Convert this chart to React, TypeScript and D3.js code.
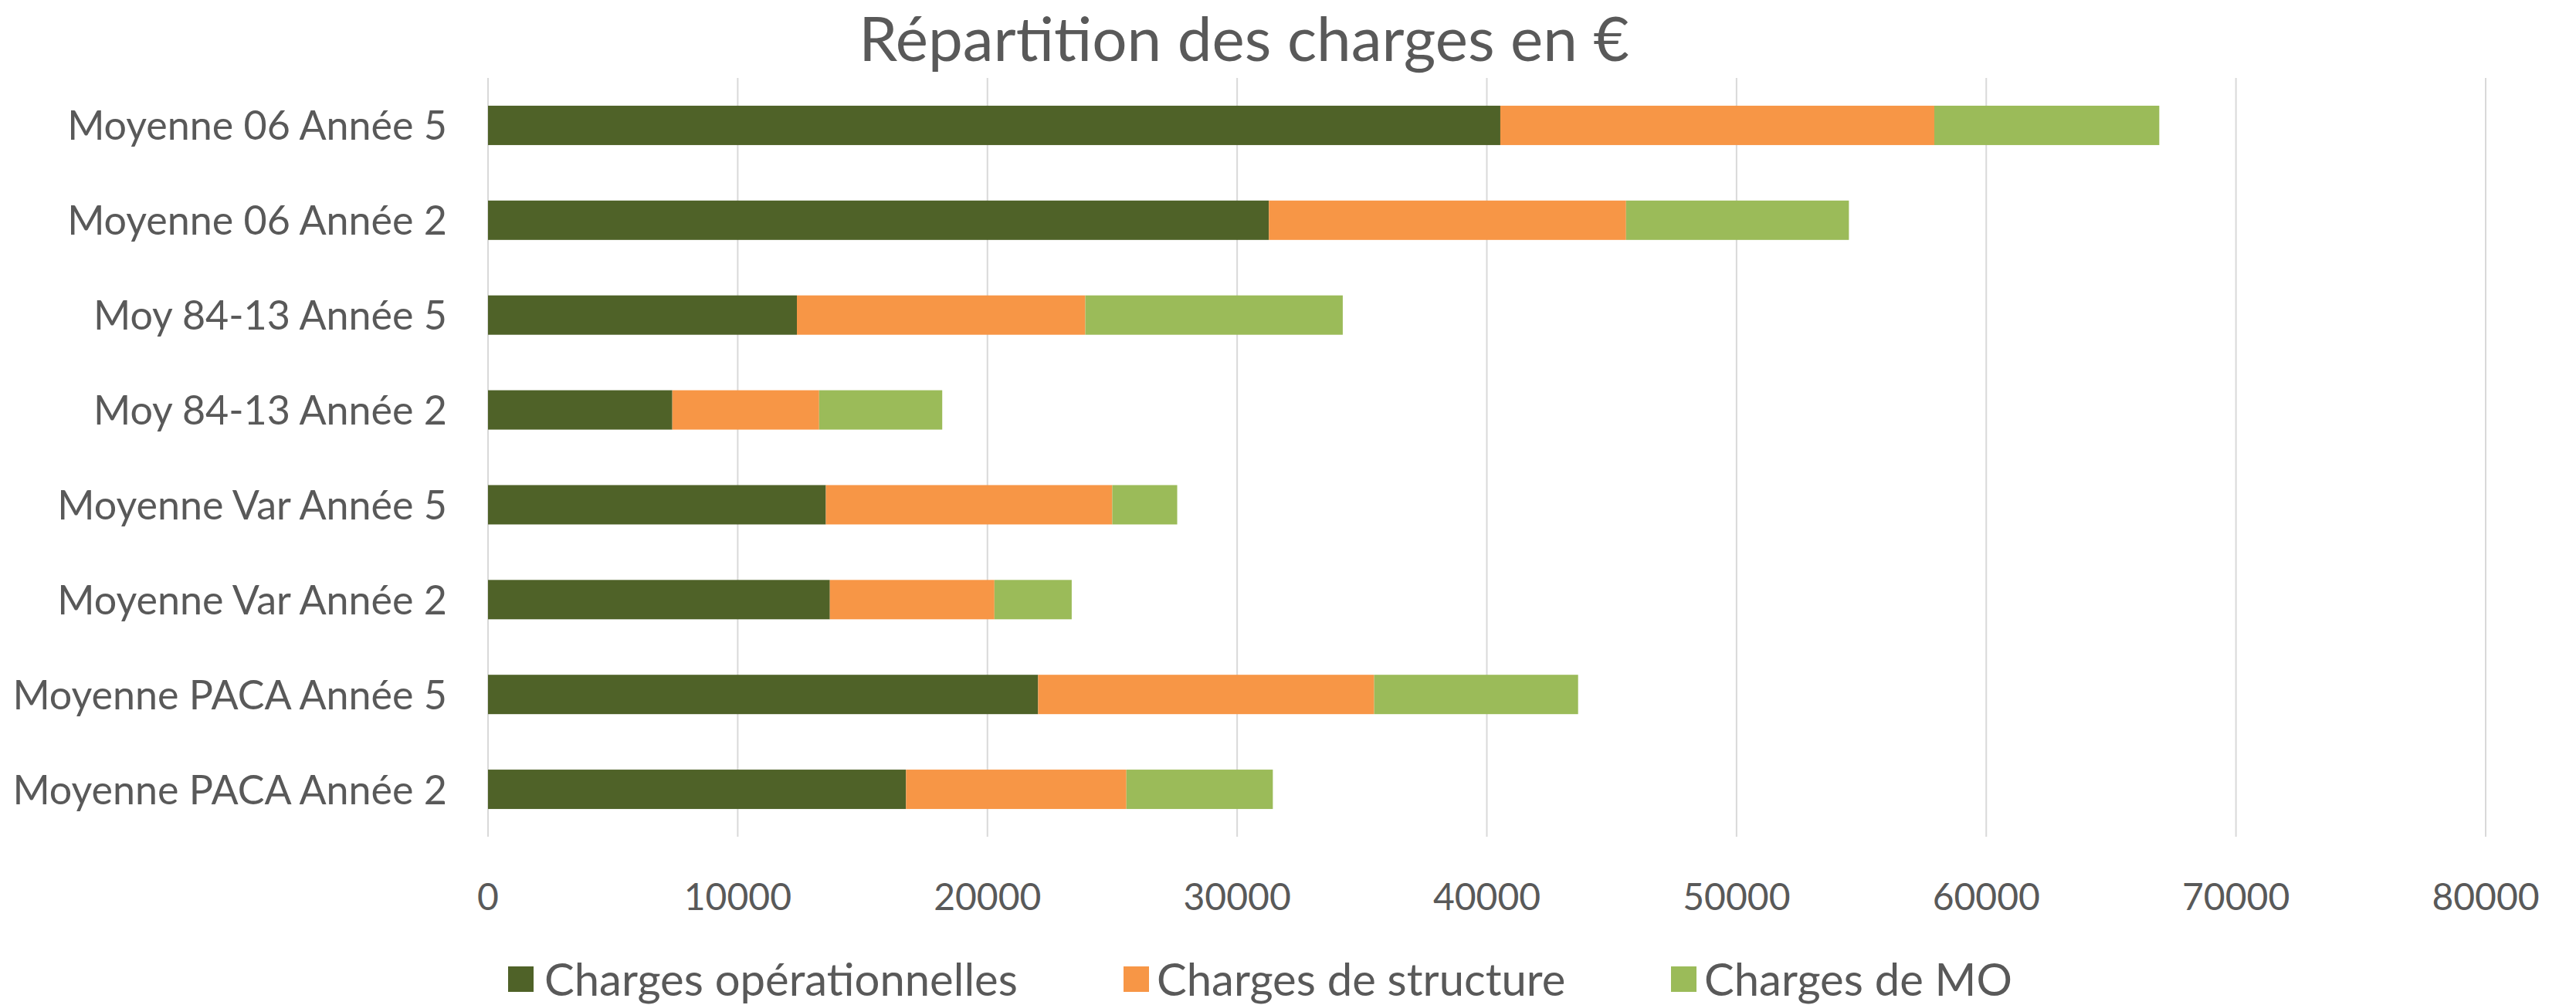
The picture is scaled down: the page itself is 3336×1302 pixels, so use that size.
import React from "react";
import * as d3 from "d3";

const categories = [
  "Moyenne 06 Année 5",
  "Moyenne 06 Année 2",
  "Moy 84-13 Année 5",
  "Moy 84-13 Année 2",
  "Moyenne Var Année 5",
  "Moyenne Var Année 2",
  "Moyenne PACA Année 5",
  "Moyenne PACA Année 2",
];
const seriesNames = ["Charges opérationnelles", "Charges de structure", "Charges de MO"];
const chargesOperationnelles = [40540, 31270, 12370, 7380, 13530, 13690, 22030, 16740];
const chargesStructure = [17380, 14305, 11550, 5880, 11470, 6590, 13458, 8825];
const chargesMO = [9010, 8925, 10310, 4930, 2600, 3095, 8167, 5865];
const xTicks = [0, 10000, 20000, 30000, 40000, 50000, 60000, 70000, 80000];
const title = "Répartition des charges en €";

const W = 3336;
const H = 1302;
const colors = ["#4F6228", "#F79646", "#9BBB59"];
const textColor = "#595959";
const gridColor = "#D9D9D9";
const FONT = "Lato, 'Open Sans', sans-serif";

export default function App() {
  const x = d3.scaleLinear().domain([0, 80000]).range([632, 3219]);
  const y = d3
    .scaleBand<string>()
    .domain(categories)
    .range([101, 1084])
    .paddingInner(0.585)
    .paddingOuter(0.2925);

  const rows = categories.map((c, i) => ({
    cat: c,
    s0: chargesOperationnelles[i],
    s1: chargesStructure[i],
    s2: chargesMO[i],
  }));
  const stack = d3.stack<any>().keys(["s0", "s1", "s2"]);
  const layers = stack(rows);

  const legendItems = [
    { sq: 658, tx: 705 },
    { sq: 1455, tx: 1498 },
    { sq: 2164, tx: 2207 },
  ];

  return (
    <div style={{ position: "absolute", left: 0, top: 0 }}>
      <svg width={W} height={H} style={{ display: "block", background: "#fff" }} fontFamily={FONT}>
        <rect x={0} y={0} width={W} height={H} fill="#fff" />
        <text x={1611} y={79} textAnchor="middle" fontSize={80} fill={textColor}>
          {title}
        </text>
        {xTicks.map((t) => (
          <line key={"g" + t} x1={x(t)} x2={x(t)} y1={101} y2={1084} stroke={gridColor} strokeWidth={2} />
        ))}
        {layers.map((layer, li) =>
          layer.map((d, i) => (
            <rect
              key={li + "-" + i}
              x={x(d[0])}
              y={y(categories[i])!}
              width={x(d[1]) - x(d[0])}
              height={y.bandwidth()}
              fill={colors[li]}
            />
          ))
        )}
        {categories.map((c) => (
          <text
            key={c}
            x={579}
            y={y(c)! + y.bandwidth() / 2 + 19}
            textAnchor="end"
            fontSize={52}
            fill={textColor}
          >
            {c}
          </text>
        ))}
        {xTicks.map((t) => (
          <text key={"t" + t} x={x(t)} y={1179} textAnchor="middle" fontSize={48} fill={textColor}>
            {String(t)}
          </text>
        ))}
        {seriesNames.map((n, i) => (
          <g key={n}>
            <rect x={legendItems[i].sq} y={1252} width={33} height={33} fill={colors[i]} />
            <text x={legendItems[i].tx} y={1290} fontSize={58} fill={textColor}>
              {n}
            </text>
          </g>
        ))}
      </svg>
    </div>
  );
}
